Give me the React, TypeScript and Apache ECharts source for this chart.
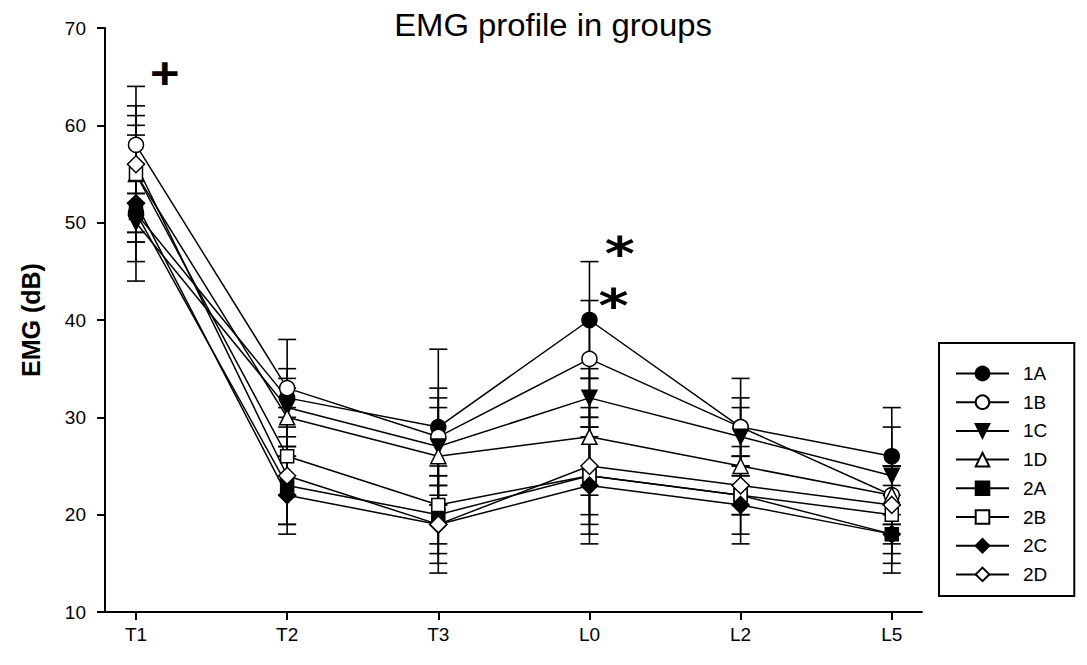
import React, { useEffect, useRef } from "react";
import * as echarts from "echarts";

const FONT = "'Liberation Sans', Arial, Helvetica, sans-serif";

const categories = ["T1", "T2", "T3", "L0", "L2", "L5"];
const yTicks = [10, 20, 30, 40, 50, 60, 70];

const groupNames = ["1A", "1B", "1C", "1D", "2A", "2B", "2C", "2D"];

const mean1A = [51, 32, 29, 40, 29, 26];
const mean1B = [58, 33, 28, 36, 29, 22];
const mean1C = [50, 31, 27, 32, 28, 24];
const mean1D = [55, 30, 26, 28, 25, 22];
const mean2A = [51, 23, 20, 24, 22, 18];
const mean2B = [55, 26, 21, 24, 22, 20];
const mean2C = [52, 22, 19, 23, 21, 18];
const mean2D = [56, 24, 19, 25, 23, 21];

const sd1A = [5, 6, 8, 6, 5, 5];
const sd1B = [6, 2, 5, 6, 3, 7];
const sd1C = [2, 3, 5, 3, 3, 1];
const sd1D = [7, 3, 5, 6, 2, 3];
const sd2A = [2, 4, 4, 4, 4, 2];
const sd2B = [6, 4, 4, 6, 2, 1];
const sd2C = [8, 4, 5, 6, 4, 4];
const sd2D = [3, 5, 4, 6, 3, 4];

// annotation marks: [x index position, y value, text]
const annotations: [number, number, string][] = [
  [0.19, 65.3, "+"],
  [3.2, 46.8, "*"],
  [3.16, 41.4, "*"],
];

const means = [mean1A, mean1B, mean1C, mean1D, mean2A, mean2B, mean2C, mean2D];
const sds = [sd1A, sd1B, sd1C, sd1D, sd2A, sd2B, sd2C, sd2D];
const symbols = ["circle", "circle", "triangle", "triangle", "rect", "rect", "diamond", "diamond"];
const filled = [true, false, true, false, true, false, true, false];
const rotations = [0, 0, 180, 0, 0, 0, 0, 0];
const sizes = [15, 15, 15, 15, 13, 13, 17, 17];

export default function App() {
  const ref = useRef<HTMLDivElement>(null);

  useEffect(() => {
    if (!ref.current) return;
    const chart = echarts.init(ref.current, undefined, { renderer: "svg" });

    const lineSeries = groupNames.map((name, g) => ({
      name,
      type: "line",
      data: categories.map((_, i) => [i, means[g][i]]),
      symbol: symbols[g],
      symbolSize: sizes[g],
      symbolRotate: rotations[g],
      showAllSymbol: true,
      z: 3,
      lineStyle: { color: "#000", width: 1.5 },
      itemStyle: {
        color: filled[g] ? "#000" : "#fff",
        borderColor: "#000",
        borderWidth: 1.5,
        opacity: 1,
      },
      emphasis: { disabled: true },
    }));

    const errData: number[][] = [];
    groupNames.forEach((_, g) => {
      categories.forEach((_, i) => {
        errData.push([i, means[g][i], sds[g][i]]);
      });
    });

    const errorSeries = {
      name: "errors",
      type: "custom",
      z: 2,
      data: errData,
      encode: { x: 0, y: 1 },
      silent: true,
      renderItem: (params: any, api: any) => {
        const x = api.value(0);
        const m = api.value(1);
        const e = api.value(2);
        const top = api.coord([x, m + e]);
        const bot = api.coord([x, m - e]);
        const hw = 9;
        const st = { stroke: "#000", lineWidth: 1.6 };
        return {
          type: "group",
          children: [
            { type: "line", shape: { x1: top[0], y1: top[1], x2: bot[0], y2: bot[1] }, style: st },
            { type: "line", shape: { x1: top[0] - hw, y1: top[1], x2: top[0] + hw, y2: top[1] }, style: st },
            { type: "line", shape: { x1: bot[0] - hw, y1: bot[1], x2: bot[0] + hw, y2: bot[1] }, style: st },
          ],
        };
      },
    };

    const titleGraphic = {
      type: "text",
      x: 553,
      y: 25,
      scaleX: 1.06,
      style: {
        text: "EMG profile in groups",
        fill: "#000",
        font: `31px ${FONT}`,
        textAlign: "center",
        textVerticalAlign: "middle",
      },
    };

    const option: any = {
      animation: false,
      textStyle: { fontFamily: FONT, color: "#000" },
      grid: { left: 105, right: 165, top: 28, bottom: 53 },
      graphic: [titleGraphic],
      xAxis: {
        type: "value",
        min: -0.205,
        max: 5.2,
        splitLine: { show: false },
        axisLine: { show: true, onZero: false, lineStyle: { color: "#000", width: 2 } },
        axisTick: {
          show: true,
          customValues: categories.map((_, i) => i),
          length: 8,
          lineStyle: { color: "#000", width: 2 },
        },
        axisLabel: {
          customValues: categories.map((_, i) => i),
          formatter: (v: number) => categories[Math.round(v)] ?? "",
          fontSize: 19,
          color: "#000",
          margin: 13,
          fontFamily: FONT,
        },
      },
      yAxis: {
        type: "value",
        min: yTicks[0],
        max: yTicks[yTicks.length - 1],
        interval: 10,
        splitLine: { show: false },
        axisLine: { show: true, onZero: false, lineStyle: { color: "#000", width: 2 } },
        axisTick: { show: true, length: 8, lineStyle: { color: "#000", width: 2 } },
        axisLabel: { fontSize: 19, color: "#000", margin: 19, fontFamily: FONT },
        name: "EMG (dB)",
        nameLocation: "middle",
        nameGap: 62,
        nameTextStyle: { fontSize: 25, fontWeight: "bold", color: "#000", fontFamily: FONT },
      },
      legend: {
        orient: "vertical",
        left: 939,
        top: 343,
        data: groupNames,
        itemWidth: 53,
        itemHeight: 17,
        itemGap: 9.7,
        padding: [21, 27, 12, 16],
        borderColor: "#000",
        borderWidth: 2,
        selectedMode: false,
        textStyle: { fontSize: 19, color: "#000", fontFamily: FONT, padding: [0, 0, 0, 9] },
      },
      series: [errorSeries, ...lineSeries],
    };

    chart.setOption(option);

    const annoGraphics = annotations.map((a) => {
      const p = chart.convertToPixel({ gridIndex: 0 }, [a[0], a[1]]) as number[];
      const isPlus = a[2] === "+";
      return {
        type: "text",
        x: p[0],
        y: p[1],
        scaleX: isPlus ? 1.15 : 1.25,
        style: {
          text: a[2],
          fill: "#000",
          font: isPlus ? `bold 44px ${FONT}` : `bold 46px 'DejaVu Sans', sans-serif`,
          textAlign: "center",
          textVerticalAlign: "middle",
        },
      };
    });
    chart.setOption({ graphic: [titleGraphic, ...annoGraphics] });

    return () => chart.dispose();
  }, []);

  return (
    <div
      ref={ref}
      style={{ position: "absolute", left: 0, top: 0, width: 1087, height: 665, background: "#fff" }}
    />
  );
}
